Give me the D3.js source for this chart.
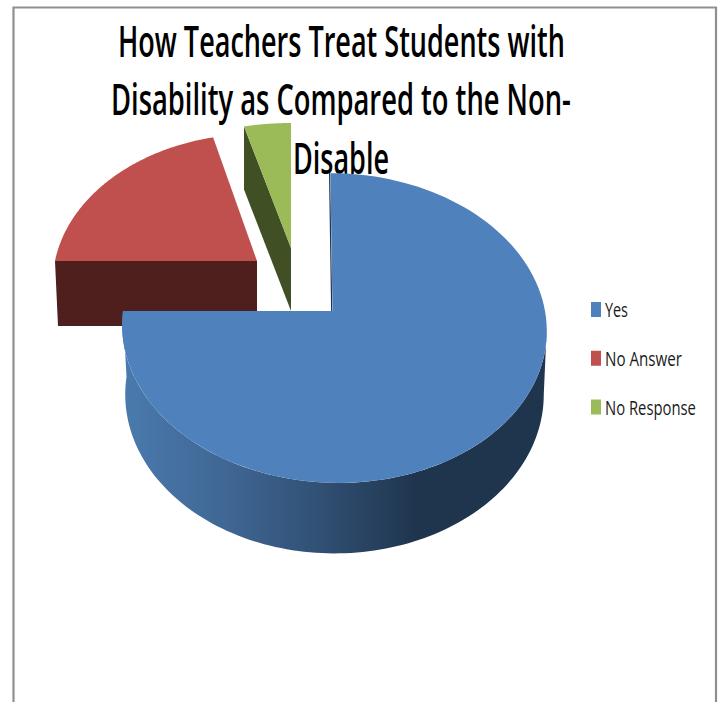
<!DOCTYPE html>
<html>
<head>
<meta charset="utf-8">
<script src="https://cdn.jsdelivr.net/npm/d3@7/dist/d3.min.js"></script>
<style>html,body{margin:0;padding:0;background:#fff}svg{display:block}</style>
</head>
<body>
<svg id="chart" width="718" height="702"></svg>
<script>
const categories = ["Yes", "No Answer", "No Response"];
const values = [75, 21, 4];
const topColors = ["#4f81bd", "#c0504d", "#9bbb59"];
const wallColors = ["url(#blueWall)", "#4f1f1e", "#404f24"];
const titleLines = ["How Teachers Treat Students with", "Disability as Compared to the Non-", "Disable"];

const W = 718, H = 702;
const svg = d3.select("#chart");
const font = "'Open Sans','Noto Sans',sans-serif";

// Squeeze a text horizontally to a given width while keeping its height
function fitWidth(sel, xOf, yOf, widthOf) {
  sel.each(function (d, i) {
    const natural = this.getComputedTextLength();
    d3.select(this).attr("transform",
      `translate(${xOf(d, i)},${yOf(d, i)}) scale(${widthOf(d, i) / natural},1)`);
  });
}

// Frame (no bottom edge)
svg.append("path")
  .attr("d", d3.line()([[13.5, H], [13.5, 7.5], [716, 7.5], [716, H]]))
  .attr("fill", "none").attr("stroke", "#8f8f8f").attr("stroke-width", 2.2);

// Title
const titleGeom = [
  { x: 118, w: 447, y: 57 },
  { x: 111, w: 460, y: 115 },
  { x: 293, w: 96, y: 174 }
];
svg.selectAll("text.title").data(titleLines).join("text")
  .attr("class", "title")
  .attr("font-family", font).attr("font-weight", 600).attr("font-size", 43)
  .attr("fill", "#000").text(d => d)
  .call(fitWidth, (d, i) => titleGeom[i].x, (d, i) => titleGeom[i].y, (d, i) => titleGeom[i].w);

// Gradient for the blue outer wall
const grad = svg.append("defs").append("linearGradient")
  .attr("id", "blueWall").attr("gradientUnits", "userSpaceOnUse")
  .attr("x1", 123).attr("x2", 546).attr("y1", 0).attr("y2", 0);
[[0, "#4a7aad"], [0.25, "#3f6694"], [0.49, "#2f4d70"], [0.7, "#1f344d"], [1, "#1f344d"]]
  .forEach(s => grad.append("stop").attr("offset", s[0]).attr("stop-color", s[1]));

// Slice angles from the data
const arcs = d3.pie().sort(null).startAngle(0).endAngle(2 * Math.PI)(values);

// Perspective geometry of each slice (top face and lower rim)
const faces = [
  { cx: 334, ix: 332.5, cy: 311, rx: 211, ry: 153, p: 0.11, sk: 4 },
  { cx: 257, cy: 261, rx: 202, ry: 146, p: 0.148, sk: 0 },
  { cx: 291, cy: 248, rx: 216, ry: 143.5, p: 0.148, sk: 0 }
];
const rims = [
  { cx: 334.5, cy: 377, rx: 208, ry: 157, p: 0.11, sk: 0 },
  { cx: 257, cy: 326, rx: 199, ry: 146, p: 0.148, sk: 0 },
  { cx: 291, cy: 311, rx: 216, ry: 143.5, p: 0.148, sk: 0 }
];
const project = (g, t) => {
  const c = Math.cos(t), s = 1 / (1 + g.p * c);
  return [g.cx + (g.rx * Math.sin(t) - g.sk * c) * s, g.cy - g.ry * c * s];
};
const sweep = (g, a, b) => d3.range(0, 121).map(i => project(g, a + (b - a) * i / 120));
const line = d3.line();
const centre = g => [g.ix === undefined ? g.cx : g.ix, g.cy];

// Draw back slices first, the large front slice last
[1, 2, 0].forEach(i => {
  const a = arcs[i], f = faces[i], r = rims[i];
  if (i === 0) {
    // Curved outer wall, from the right-hand tangent round to the flat cut
    const t0 = Math.acos(-f.p);
    svg.append("path")
      .attr("d", line(sweep(f, t0, a.endAngle).concat(sweep(r, a.endAngle, t0))) + "Z")
      .attr("fill", wallColors[i]);
    // Thin sliver of the inner cut at the top of the slice
    svg.append("path")
      .attr("d", line([project(f, a.startAngle), centre(f)]))
      .attr("transform", "translate(-0.8,0)")
      .attr("stroke", "#1f344d").attr("stroke-width", 1.2).attr("fill", "none");
  } else {
    // Flat cut face visible at the slice's leading edge
    svg.append("path")
      .attr("d", line([project(f, a.startAngle), centre(f), centre(r), project(r, a.startAngle)]) + "Z")
      .attr("fill", wallColors[i]);
  }
  svg.append("path")
    .attr("d", line([centre(f)].concat(sweep(f, a.startAngle, a.endAngle))) + "Z")
    .attr("fill", topColors[i]);
});

// Legend
const legendY = d3.scalePoint().domain(categories).range([309.5, 407]);
const legendW = { "Yes": 23, "No Answer": 77, "No Response": 91 };
svg.selectAll("rect.swatch").data(categories).join("rect")
  .attr("class", "swatch")
  .attr("x", 591).attr("y", d => legendY(d) - 7.5).attr("width", 10).attr("height", 15)
  .attr("fill", (d, i) => topColors[i]);
svg.selectAll("text.legend").data(categories).join("text")
  .attr("class", "legend")
  .attr("font-family", font).attr("font-size", 20).attr("fill", "#1a1a1a")
  .text(d => d)
  .call(fitWidth, () => 605, d => legendY(d) + 7.5, d => legendW[d]);
</script>
</body>
</html>
